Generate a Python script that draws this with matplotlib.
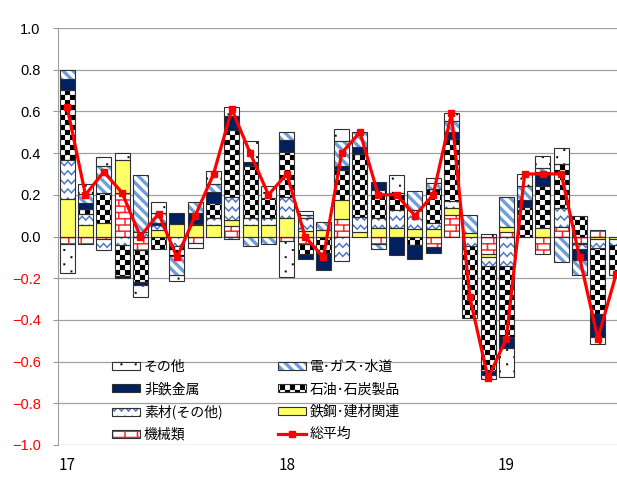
import warnings
import numpy as np
import matplotlib
matplotlib.use('Agg')
import matplotlib.pyplot as plt
import matplotlib.hatch as mhatch
from matplotlib.path import Path
from matplotlib.patches import Patch
from matplotlib.lines import Line2D

warnings.filterwarnings('ignore')

# monthly contributions, Jan 2017 ..
months = np.arange(31)
year_ticks = [0, 12, 24]
year_labels = ['17', '18', '19']

kikai = [-0.035, -0.038, -0.01, 0.21, -0.065, 0, 0, -0.03, 0, 0.05, 0, 0, -0.02, -0.038, 0, 0.085,
         0, -0.038, 0, 0, -0.05, 0.102, 0, -0.086, 0.022, 0, -0.086, 0.046, -0.03, 0.03, 0]
tekko = [0.18, 0.054, 0.065, 0.155, 0, 0.033, 0.062, 0.054, 0.057, 0.028, 0.057, 0.057, 0.089, 0.025, 0.03, 0.092,
         0.021, 0.041, 0.041, 0.037, 0.037, 0.035, 0.018, -0.01, 0.022, 0, 0.041, 0, -0.005, -0.011, -0.01]
sozai = [0.185, 0.056, -0.055, -0.04, 0.02, 0.024, -0.045, 0, 0.032, 0.113, 0.032, 0.032, 0.1, 0.065, 0, -0.118,
         0.073, 0.048, 0.088, 0.092, 0.029, 0.032, -0.046, -0.045, -0.142, 0, 0, 0.091, -0.025, -0.043, -0.03]
sekiyu = [0.34, 0.022, 0.145, -0.15, -0.155, -0.06, -0.05, 0.005, 0.072, 0.322, 0.248, 0.096, 0.218, -0.045, -0.078, 0.14,
          0.30, 0.136, 0.08, -0.04, 0.16, 0.298, -0.346, -0.502, -0.338, 0.142, 0.203, 0.212, 0.097, -0.319, -0.145]
hitetsu = [0.05, 0.029, 0, -0.008, -0.015, 0.008, 0.05, 0.055, 0.051, 0.065, 0.019, 0, 0.056, -0.027, -0.085, 0.02,
           0.036, 0.035, -0.09, -0.067, -0.03, 0.032, 0, -0.021, -0.053, 0.035, 0.064, 0, -0.055, -0.107, 0]
denki = [0.045, 0.043, 0.13, 0, 0.275, 0.048, -0.09, 0.05, 0.041, -0.01, -0.046, -0.035, 0.036, 0.012, 0.04, 0.12,
         0.07, -0.021, 0, 0.088, 0.032, 0.053, 0.087, -0.019, 0.145, 0.064, 0.021, -0.123, -0.07, 0, 0]
sonota = [-0.14, 0.05, 0.04, 0.035, -0.055, 0.053, -0.027, -0.025, 0.059, 0.045, 0.103, 0.056, -0.175, 0.02, 0, 0.06,
          0, 0, 0.088, 0, 0.024, 0.04, 0, 0.01, -0.139, 0.06, 0.056, 0.075, 0, -0.037, 0]
heikin = [0.62, 0.2, 0.31, 0.21, 0.0, 0.11, -0.1, 0.1, 0.3, 0.61, 0.4, 0.2, 0.3, 0.0, -0.1, 0.4,
          0.5, 0.2, 0.2, 0.1, 0.2, 0.59, -0.29, -0.68, -0.49, 0.3, 0.3, 0.3, -0.1, -0.49, -0.18]


# excel-like fill patterns as extra hatch types (filled polygons in the unit tile)
class PolyHatch(mhatch.HatchPatternBase):
    key = ''

    def __init__(self, hatch, density):
        self.polys = self.make() if self.key in hatch else []
        self.num_vertices = sum(len(p) + 1 for p in self.polys)

    def set_vertices_and_codes(self, vertices, codes):
        i = 0
        for p in self.polys:
            n = len(p)
            vertices[i:i + n] = p
            vertices[i + n] = p[0]
            codes[i] = Path.MOVETO
            codes[i + 1:i + n] = Path.LINETO
            codes[i + n] = Path.CLOSEPOLY
            i += n + 1


def quad(x0, y0, x1, y1, t):
    return [(x0, y0 - t / 2), (x1, y1 - t / 2), (x1, y1 + t / 2), (x0, y0 + t / 2)]


class CheckerHatch(PolyHatch):
    key = 'c'

    def make(self):
        n = 20
        s = 1 / n
        return [[(i * s, j * s), ((i + 1) * s, j * s), ((i + 1) * s, (j + 1) * s), (i * s, (j + 1) * s)]
                for i in range(n) for j in range(n) if (i + j) % 2 == 0]


class StripeHatch(PolyHatch):
    key = 'd'

    def make(self):
        n, w = 10, 0.045
        polys = []
        for k in range(-1, 2 * n + 2):
            c = k / n
            polys.append([(-0.1, c + 0.1), (1.1, c - 1.1), (1.1, c - 1.1 + w), (-0.1, c + 0.1 + w)])
        return polys


class WaveHatch(PolyHatch):
    key = 'w'

    def make(self):
        rows, per, amp, t = 11, 14, 0.019, 0.018
        xs = np.linspace(0, 1, 2 * per + 1)
        polys = []
        for r in range(rows + 1):
            ys = r / rows + amp * np.where(np.arange(2 * per + 1) % 2 == 0, -1, 1)
            for k in range(2 * per):
                polys.append(quad(xs[k], ys[k], xs[k + 1], ys[k + 1], t))
        return polys


class BrickHatch(PolyHatch):
    key = 'b'

    def make(self):
        rows, cols, t = 16, 8, 0.014
        polys = []
        for r in range(rows + 1):
            polys.append(quad(0, r / rows, 1, r / rows, t))
        for r in range(rows):
            y0, y1 = r / rows, (r + 1) / rows
            off = 0 if r % 2 == 0 else 0.5 / cols
            for c in range(cols + 1):
                x = c / cols + off
                polys.append([(x - t / 2, y0), (x + t / 2, y0), (x + t / 2, y1), (x - t / 2, y1)])
        return polys


class DotHatch(PolyHatch):
    key = 'p'

    def make(self):
        rows, cols, s = 14, 7, 0.018
        polys = []
        for r in range(rows + 1):
            off = 0 if r % 2 == 0 else 0.5 / cols
            for c in range(cols + 1):
                x, y = c / cols + off, r / rows
                polys.append([(x - s / 2, y - s / 2), (x + s / 2, y - s / 2),
                              (x + s / 2, y + s / 2), (x - s / 2, y + s / 2)])
        return polys


mhatch._hatch_types.extend([CheckerHatch, StripeHatch, WaveHatch, BrickHatch, DotHatch])
plt.rcParams['hatch.linewidth'] = 0.1

jp = ['Noto Sans CJK JP', 'DejaVu Sans']

# stacking order bottom -> top: name, values, face, hatch colour, hatch
series = [
    ('機械類', kikai, 'white', '#ff2424', 'b'),
    ('鉄鋼･建材関連', tekko, '#ffff66', None, None),
    ('素材(その他)', sozai, 'white', '#3d6cc0', 'w'),
    ('石油･石炭製品', sekiyu, 'white', 'black', 'c'),
    ('非鉄金属', hitetsu, '#002060', None, None),
    ('電･ガス･水道', denki, 'white', '#6d9ed9', 'd'),
    ('その他', sonota, 'white', 'black', 'p'),
]

fig = plt.figure(figsize=(6.17, 4.92), dpi=100)
ax = fig.add_axes([58 / 617, 47 / 492, 585.6 / 617, 417 / 492])

width = 0.82
pos_base = np.zeros(len(months))
neg_base = np.zeros(len(months))
handles = {}
for name, vals, fc, hc, hatch in series:
    v = np.array(vals, dtype=float)
    base = np.where(v >= 0, pos_base, neg_base)
    m = v != 0
    if hatch:
        ax.bar(months[m], v[m], width, bottom=base[m], color=fc, edgecolor=hc, hatch=hatch,
               linewidth=0, zorder=2)
        h1 = Patch(facecolor=fc, edgecolor=hc, hatch=hatch, linewidth=0)
    else:
        ax.bar(months[m], v[m], width, bottom=base[m], color=fc, linewidth=0, zorder=2)
        h1 = Patch(facecolor=fc, linewidth=0)
    ax.bar(months[m], v[m], width, bottom=base[m], fill=False, edgecolor='#303030',
           linewidth=0.8, zorder=3)
    handles[name] = (h1, Patch(fill=False, edgecolor='#303030', linewidth=0.8))
    pos_base += np.where(v > 0, v, 0)
    neg_base += np.where(v < 0, v, 0)

ax.plot(months, heikin, color='#ff0000', lw=2.3, marker='s', ms=4, zorder=5)
handles['総平均'] = Line2D([], [], color='#ff0000', lw=2.3, marker='s', ms=4)

ax.set_xlim(-0.5, 31.5)
ax.set_ylim(-1, 1)
yt = np.round(np.linspace(-1, 1, 11), 1)
ax.set_yticks(yt)
ax.set_yticklabels([f'{v:.1f}'.replace('-', '\u2212') for v in yt], family='Liberation Sans', fontsize=10.5)
for lab, v in zip(ax.get_yticklabels(), yt):
    lab.set_color('#ff0000' if v < 0 else 'black')
ax.set_xticks(year_ticks)
ax.set_xticklabels(year_labels, family=jp, fontsize=11)
ax.tick_params(axis='x', length=0, pad=9)
ax.tick_params(axis='y', length=3.5, color='#999999', pad=9)
ax.grid(axis='y', color='#a0a0a0', lw=0.9)
ax.set_axisbelow(True)
for s in ['top', 'right', 'bottom']:
    ax.spines[s].set_visible(False)
ax.spines['left'].set_color('#a0a0a0')

order = ['その他', '非鉄金属', '素材(その他)', '機械類',
         '電･ガス･水道', '石油･石炭製品', '鉄鋼･建材関連', '総平均']
fig.legend([handles[k] for k in order], order, loc='upper left', bbox_to_anchor=(112 / 617, 132 / 492),
           ncol=2, frameon=False, prop={'family': jp, 'size': 10}, borderpad=0, borderaxespad=0,
           handlelength=2.0, handleheight=0.5, handletextpad=0.3, columnspacing=4.0, labelspacing=0.6)

fig.savefig('out.png', dpi=100)
